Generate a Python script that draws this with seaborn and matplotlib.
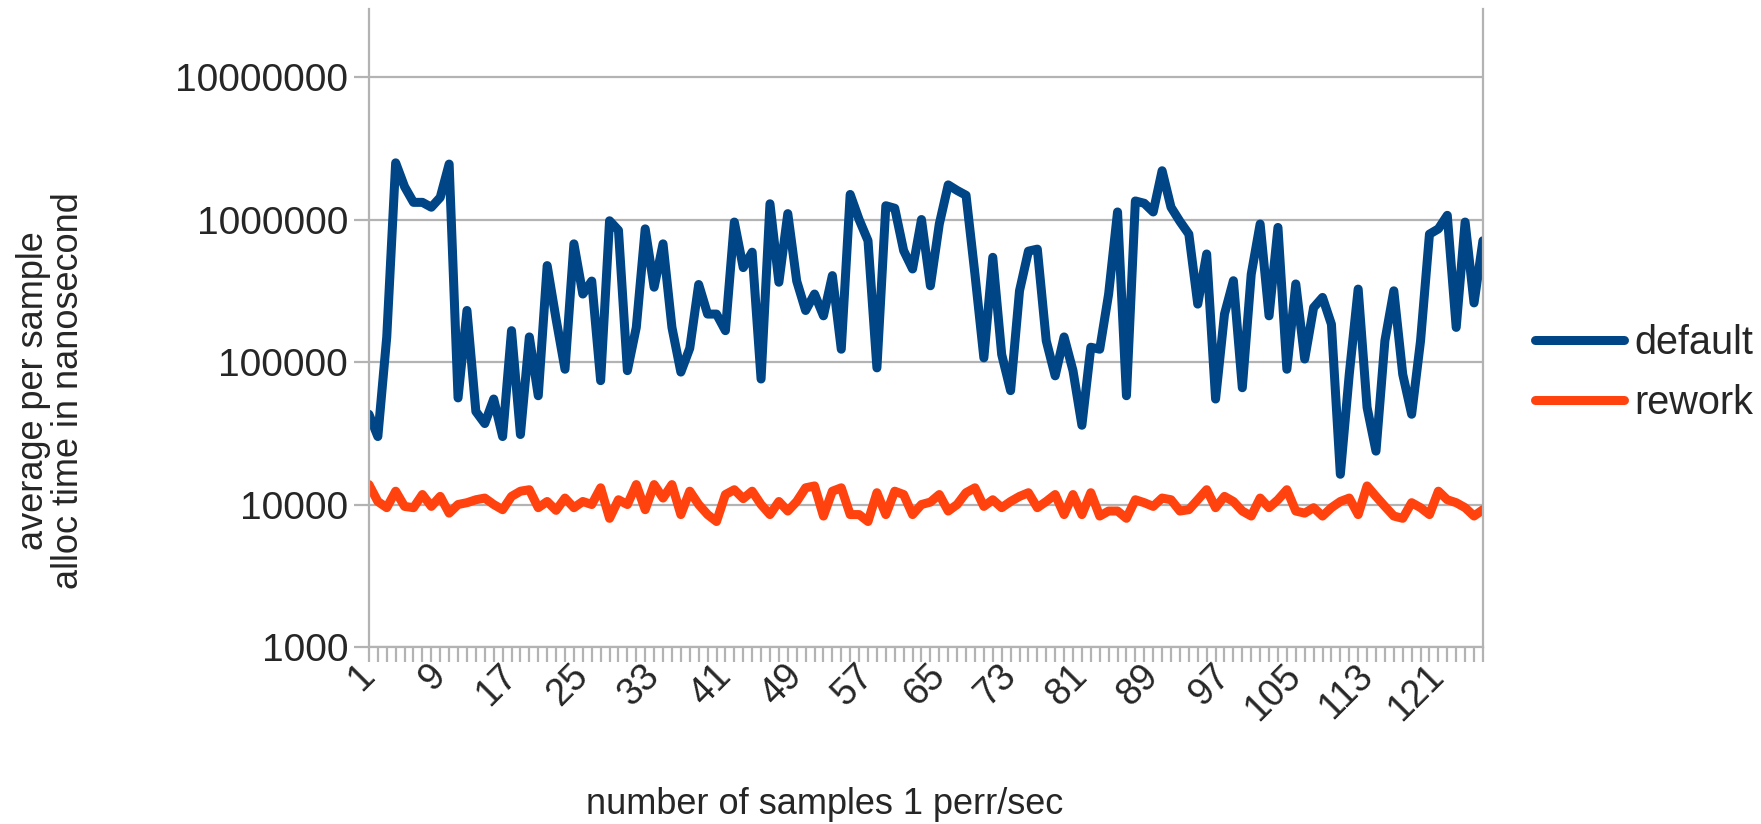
import matplotlib
matplotlib.use("Agg")
import matplotlib.pyplot as plt
from matplotlib import font_manager
import seaborn as sns
import pandas as pd
import numpy as np

samples = list(range(1, 127))
xtick_labels = [1, 9, 17, 25, 33, 41, 49, 57, 65, 73, 81, 89, 97, 105, 113, 121]
ytick_values = [1000, 10000, 100000, 1000000, 10000000]

default = [
    43000, 30000, 150000, 2500000, 1700000, 1320000, 1320000, 1220000, 1430000, 2450000,
    56000, 230000, 45000, 37000, 55000, 30000, 166000, 31000, 150000, 58000,
    475000, 200000, 89000, 675000, 300000, 370000, 74000, 980000, 840000, 87000,
    175000, 860000, 335000, 675000, 175000, 85000, 125000, 350000, 217000, 217000,
    166000, 960000, 460000, 590000, 76000, 1290000, 363000, 1100000, 370000, 230000,
    300000, 211000, 404000, 123000, 1500000, 1000000, 710000, 91000, 1250000, 1200000,
    605000, 450000, 1000000, 343000, 930000, 1750000, 1600000, 1480000, 413000, 107000,
    543000, 113000, 63000, 316000, 600000, 620000, 141000, 80000, 150000, 87000,
    36000, 127000, 123000, 300000, 1130000, 58000, 1350000, 1300000, 1130000, 2200000,
    1220000, 970000, 790000, 255000, 573000, 55000, 217000, 372000, 66000, 413000,
    930000, 211000, 880000, 89000, 353000, 105000, 241000, 284000, 184000, 16300,
    82000, 325000, 48000, 23700, 141000, 316000, 82000, 43000, 141000, 790000,
    860000, 1070000, 175000, 960000, 260000, 710000,
]

rework = [
    13800, 10500, 9500, 12400, 9700, 9500, 11750, 9700, 11400, 8700,
    10000, 10300, 10800, 11100, 10000, 9200, 11400, 12400, 12700, 9500,
    10500, 9100, 11100, 9500, 10500, 10000, 13100, 8000, 10800, 10000,
    13800, 9200, 13800, 11100, 13800, 8500, 12400, 10000, 8500, 7600,
    11750, 12700, 11000, 12400, 10000, 8500, 10500, 9000, 10500, 13100,
    13500, 8300, 12400, 13100, 8500, 8500, 7600, 12100, 8500, 12400,
    11750, 8500, 10000, 10400, 11750, 9000, 10000, 12100, 13100, 9700,
    10800, 9500, 10500, 11400, 12100, 9500, 10500, 11750, 8500, 11750,
    8500, 12100, 8300, 9000, 9000, 8000, 10800, 10300, 9700, 11100,
    10800, 9000, 9200, 10800, 12700, 9500, 11400, 10500, 9000, 8300,
    11100, 9500, 10800, 12700, 9000, 8700, 9500, 8300, 9500, 10500,
    11100, 8500, 13500, 11400, 9700, 8300, 8000, 10300, 9500, 8500,
    12400, 10800, 10300, 9500, 8300, 9200,
]

series_names = ["default", "rework"]
colors = {"default": "#004586", "rework": "#ff420e"}

df = pd.concat([
    pd.DataFrame({"sample": samples, "value": default, "series": "default"}),
    pd.DataFrame({"sample": samples, "value": rework, "series": "rework"}),
], ignore_index=True)

sns.set_theme(style="white")
plt.rcParams["font.family"] = ["Liberation Sans", "DejaVu Sans"]
installed = {f.name for f in font_manager.fontManager.ttflist}
narrow = "Liberation Sans Narrow" if "Liberation Sans Narrow" in installed else "Liberation Sans"

FS = 26
GREY = "#b3b3b3"
LW = 6.5

fig = plt.figure(figsize=(17.61, 8.24), dpi=100)
ax = fig.add_axes([0.2095, 0.2148, 0.6326, 0.7742])

sns.lineplot(data=df, x="sample", y="value", hue="series", hue_order=series_names,
             palette=colors, linewidth=LW, ax=ax, legend=True, sort=False)
for ln in ax.lines:
    ln.set_solid_joinstyle("round")
    ln.set_solid_capstyle("round")

ax.set_yscale("log")
ax.set_ylim(1000, 3.0e7)
ax.set_xlim(1, 126)

ax.yaxis.set_major_locator(matplotlib.ticker.FixedLocator(ytick_values))
ax.yaxis.set_minor_locator(matplotlib.ticker.NullLocator())
ax.set_yticklabels([str(v) for v in ytick_values], fontsize=28)

ax.set_xticks(xtick_labels)
ax.set_xticks(samples, minor=True)
ax.set_xticklabels([str(v) for v in xtick_labels], fontsize=27, rotation=45,
                   ha="right", va="center", rotation_mode="anchor")

ax.tick_params(axis="both", which="both", direction="out", length=11, width=1.6,
               color=GREY, bottom=True, left=True)
ax.tick_params(axis="x", which="major", pad=6)
ax.tick_params(axis="y", which="major", pad=4)

ax.grid(axis="y", which="major", color=GREY, linewidth=1.6)
ax.grid(axis="x", visible=False)
for side in ["left", "right", "bottom"]:
    ax.spines[side].set_visible(True)
    ax.spines[side].set_color(GREY)
    ax.spines[side].set_linewidth(1.6)
ax.spines["top"].set_visible(False)

ax.set_xlabel("")
ax.set_ylabel("")

fig.text(825 / 1761, 1 - 804 / 824, "number of samples 1 perr/sec", fontsize=FS,
         ha="center", va="center")
fig.text(51 / 1761, 1 - 391 / 824, "average per sample\nalloc time in nanosecond",
         fontsize=FS + 3 if narrow != "Liberation Sans" else FS, family=narrow,
         rotation=90, ha="center", va="center", multialignment="center", linespacing=1.0)

handles, labels = ax.get_legend_handles_labels()
leg = ax.legend(handles, labels, loc="center left",
                bbox_to_anchor=(1535 / 1761, 1 - 373 / 824), bbox_transform=fig.transFigure,
                frameon=False, fontsize=28.5, handlelength=2.25, handletextpad=0.25,
                labelspacing=0.55, borderpad=0, borderaxespad=0)
for h in leg.get_lines():
    h.set_linewidth(LW)

fig.savefig("out.png", dpi=100)
